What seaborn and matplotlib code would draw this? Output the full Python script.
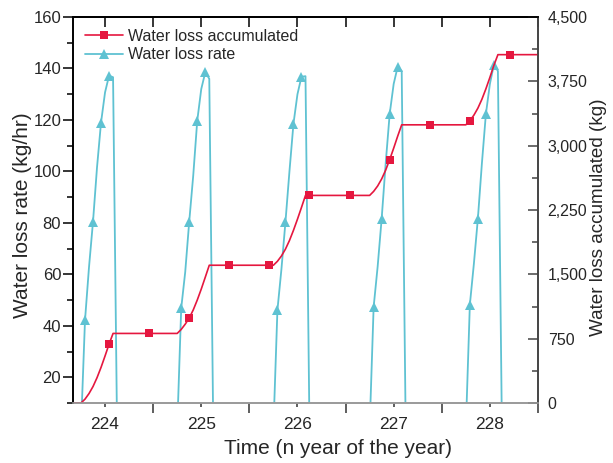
import numpy as np
import pandas as pd
import matplotlib
matplotlib.use("Agg")
import matplotlib.pyplot as plt
from matplotlib.ticker import MultipleLocator, FuncFormatter
import seaborn as sns

# Days of the year shown on the time axis
days = [224, 225, 226, 227, 228]

# Hourly water loss rate (kg/hr) from 18:00 on the eve of each day to 03:00
rate_224 = [0, 42.1, 62.8, 80.5, 101.6, 119.0, 130.7, 137.2, 136.6, 0]
rate_225 = [0, 46.8, 60.9, 80.5, 98.4, 119.7, 132.0, 138.5, 136.0, 0]
rate_226 = [0, 46.1, 62.0, 80.3, 100.0, 118.5, 130.0, 136.8, 137.0, 0]
rate_227 = [0, 47.3, 63.0, 81.6, 103.0, 122.3, 134.0, 140.7, 139.0, 0]
rate_228 = [0, 48.2, 64.0, 81.6, 103.0, 122.3, 134.0, 141.5, 139.0, 0]

# Accumulated water loss (kg) at the same hours
acc_224 = [0, 45, 110, 192, 295, 415, 548, 686, 811, 811]
acc_225 = [811, 858, 919, 991, 1085, 1200, 1328, 1466, 1606, 1606]
acc_226 = [1606, 1652, 1714, 1794, 1894, 2013, 2143, 2280, 2420, 2420]
acc_227 = [2420, 2467, 2530, 2612, 2715, 2837, 2971, 3111, 3243, 3243]
acc_228 = [3243, 3291, 3355, 3437, 3540, 3662, 3796, 3937, 4061, 4061]

rate_days = [rate_224, rate_225, rate_226, rate_227, rate_228]
acc_days = [acc_224, acc_225, acc_226, acc_227, acc_228]

x_ticks = [224, 225, 226, 227, 228]
rate_ticks = [20, 40, 60, 80, 100, 120, 140, 160]
acc_ticks = [0, 750, 1500, 2250, 3000, 3750, 4500]

# Hourly record from 16:00 of day 223 to 12:00 of day 228
hours = np.arange(16, 133)
rate = np.zeros(len(hours))
acc = np.zeros(len(hours))
for day, r, a in zip(days, rate_days, acc_days):
    i0 = (day - 1 - 223) * 24 + 18 - hours[0]
    rate[i0:i0 + len(r)] = r
    acc[i0:i0 + len(a)] = a
    acc[i0 + len(a):] = a[-1]

df = pd.DataFrame({"time": 223 + hours / 24, "rate": rate, "accumulated": acc})

sns.set_theme(style="ticks")
plt.rcParams["font.family"] = ["Liberation Sans", "DejaVu Sans"]

RED = "#e5173f"
CYAN = "#5fc2d2"

fig = plt.figure(figsize=(6.13, 4.63), dpi=100)
ax = fig.add_axes([73 / 613, 1 - 403 / 463, (538 - 73) / 613, (403 - 17) / 463])
ax2 = ax.twinx()

sns.lineplot(data=df, x="time", y="rate", ax=ax, color=CYAN, lw=1.3,
             marker="^", markersize=7.5, markevery=(3, 2), mec=CYAN, mew=0,
             estimator=None, sort=False, label="Water loss rate", legend=False)
sns.lineplot(data=df, x="time", y="accumulated", ax=ax2, color=RED, lw=1.2,
             marker="s", markersize=6, markevery=(9, 10), mec=RED, mew=0,
             estimator=None, sort=False, label="Water loss accumulated", legend=False)

ax.set_xlim(223.667, 228.5)
ax.set_ylim(10, 160)
ax2.set_ylim(0, 4500)

ax.set_xticks(x_ticks)
ax.xaxis.set_minor_locator(MultipleLocator(0.5))
ax.set_yticks(rate_ticks)
ax.yaxis.set_minor_locator(MultipleLocator(10))
ax2.set_yticks(acc_ticks)
ax2.yaxis.set_minor_locator(MultipleLocator(375))
ax2.yaxis.set_major_formatter(FuncFormatter(lambda v, p: f"{int(v):,}"))

ax.tick_params(axis="x", which="major", direction="out", length=3, width=1.1,
               color="#333333", labelsize=12.5, pad=7, top=False)
ax.tick_params(axis="x", which="minor", direction="out", length=7, width=1.1,
               color="#333333", top=False)
ax.tick_params(axis="y", which="major", direction="out", length=7, width=1.1,
               color="black", labelsize=12, pad=1.5)
ax.tick_params(axis="y", which="minor", direction="out", length=4.5, width=1.1,
               color="black")
ax2.tick_params(axis="y", which="major", direction="in", length=7, width=1.1,
                color="#444444", labelsize=11.5, pad=7)
ax2.tick_params(axis="y", which="minor", direction="in", length=4.5, width=1.1,
                color="#444444")

# Inward ticks along the top edge
top = ax.secondary_xaxis("top")
top.set_xticks(x_ticks)
top.xaxis.set_minor_locator(MultipleLocator(0.5))
top.tick_params(axis="x", which="both", direction="in", length=7, width=1.1,
                color="black", labeltop=False)
top.spines["top"].set_color("black")
top.spines["top"].set_linewidth(1.2)

for a in (ax, ax2):
    a.spines["left"].set_color("black")
    a.spines["top"].set_color("black")
    a.spines["bottom"].set_color("#9a9a9a")
    a.spines["right"].set_color("#444444")
    for s in a.spines.values():
        s.set_linewidth(1.2)
        s.set_visible(True)

ax.set_xlabel("Time (n year of the year)", fontsize=15)
ax.set_ylabel("Water loss rate (kg/hr)", fontsize=15)
ax2.set_ylabel("Water loss accumulated (kg)", fontsize=13.6)
ax.xaxis.set_label_coords(0.57, -0.093)
ax.yaxis.set_label_coords(-0.088, 0.487)
ax2.yaxis.set_label_coords(1.112, 0.482)

h1, l1 = ax.get_legend_handles_labels()
h2, l2 = ax2.get_legend_handles_labels()
ax2.legend(h2 + h1, l2 + l1, loc="upper left", bbox_to_anchor=(0.0, 1.0),
           frameon=False, fontsize=11.5, handlelength=2.4, handletextpad=0.3,
           labelspacing=0.22, borderaxespad=0.55, borderpad=0.2)

fig.savefig("out.png", dpi=100)
